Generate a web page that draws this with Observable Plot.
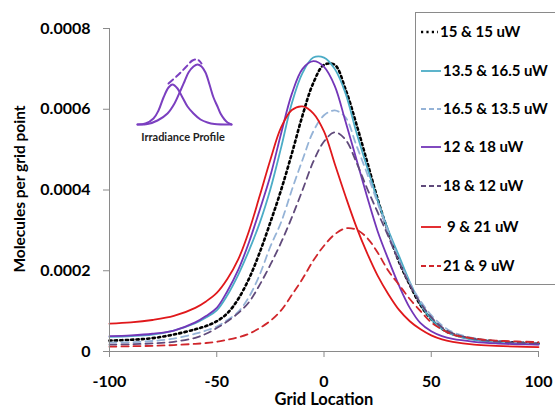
<!DOCTYPE html>
<html>
<head>
<meta charset="utf-8">
<script src="https://cdn.jsdelivr.net/npm/d3@7"></script>
<script src="https://cdn.jsdelivr.net/npm/@observablehq/plot@0.6"></script>
<style>
  html, body { margin: 0; padding: 0; background: #fff; }
  #wrap { position: relative; width: 555px; height: 409px; overflow: hidden; }
  #inset { position: absolute; left: 134px; top: 51px; }
</style>
</head>
<body>
<div id="wrap"><div id="chart"></div><div id="inset"></div></div>
<script>
// Grid locations (x) shared by all series
const gridX = [-100,-90,-80,-70,-60,-55,-50,-45,-40,-35,-30,-25,-20,-15,-10,-5,0,5,10,15,20,25,30,35,40,45,50,55,60,70,80,90,100];

// Values in units of 1e-6 molecules per grid point
const s15_15   = [27,29,33,42,55,63,75,95,130,180,245,320,400,490,585,665,710,710,650,565,472,378,295,222,165,115,80,56,43,31,25,22,20];
const s135_165 = [36,38,42,52,70,84,102,140,190,250,318,402,505,615,690,728,728,700,640,545,458,375,300,236,172,118,80,56,42,29,23,20,18];
const s165_135 = [22,23,26,32,44,52,62,78,98,135,190,260,320,400,475,545,585,597,580,512,442,368,295,226,170,125,90,65,48,33,26,23,21];
const s12_18   = [38,40,44,52,72,88,108,150,202,270,350,435,540,638,700,719,705,658,570,478,385,298,228,163,108,70,50,38,31,24,20,18,17];
const s18_12   = [17,18,20,24,34,44,58,75,95,122,165,215,270,332,400,470,520,543,525,470,405,345,285,222,165,120,85,60,45,31,25,22,20];
const s9_21    = [69,72,78,88,108,124,145,180,228,298,385,475,555,598,607,590,545,465,385,310,245,188,142,103,75,55,40,30,24,17,14,12,11];
const s21_9    = [12,13,14,16,19,21,24,29,35,44,58,76,102,140,180,225,262,290,305,302,282,245,200,165,130,100,72,55,42,32,27,25,23];

const seriesNames = ["15 & 15 uW","13.5 & 16.5 uW","16.5 & 13.5 uW","12 & 18 uW","18 & 12 uW","9 & 21 uW","21 & 9 uW"];
const seriesValues = [s15_15, s135_165, s165_135, s12_18, s18_12, s9_21, s21_9];
const seriesColors = ["#000000","#4bacc6","#95b3d7","#7336b8","#604a7b","#e0181b","#d0262b"];
const seriesDash   = ["2.2,3.2", null, "7,5", null, "7,5", null, "7,5"];
const seriesWidth  = [2.6, 1.8, 1.8, 1.8, 1.8, 1.8, 1.8];

const xTicks = [-100,-50,0,50,100];
const yTicks = [0,0.0002,0.0004,0.0006,0.0008];
const yTickLabels = ["0","0.0002","0.0004","0.0006","0.0008"];

// Inset "Irradiance Profile" shapes (arbitrary units)
const leftProfX  = [137,145,153,158,163,168,172,177,182,187,193,200,207,214,231];
const leftProfY  = [0,1,6,14,27,37,40,36,27,18,11,5,2,0.5,0];
const rightProfX = [137,147,157,167,174,180,184,188,193,197,201,205,209,213,217,220,224,227,231];
const rightProfY = [0,0.5,4,11,21,34,43,52,58,60,58,52,40,27,18,11,5,2,0];
const envProfX   = [168,177,185,192,197,201];
const envProfY   = [41,49,57,64,65,61];

// Build tidy table
const table = [];
seriesNames.forEach((name, i) => {
  gridX.forEach((x, j) => table.push({series: name, x, v: seriesValues[i][j] * 1e-6}));
});

const lineMarks = seriesNames.map((name, i) =>
  Plot.line(table.filter(d => d.series === name), {
    x: "x", y: "v",
    stroke: seriesColors[i],
    strokeWidth: seriesWidth[i],
    strokeDasharray: seriesDash[i] || undefined,
    curve: "catmull-rom"
  })
);

const chart = Plot.plot({
  width: 555, height: 409,
  marginLeft: 109, marginRight: 17, marginTop: 28, marginBottom: 58,
  style: {fontFamily: "Lato", fontWeight: "bold", fontSize: "16px", color: "#000", background: "#fff", overflow: "visible"},
  x: {domain: [-100, 100]},
  y: {domain: [0, 0.0008]},
  marks: [
    ...lineMarks,
    Plot.ruleX([-100], {stroke: "#8a8a8a", strokeWidth: 1}),
    Plot.ruleY([0], {stroke: "#8a8a8a", strokeWidth: 1}),
    Plot.axisY({ticks: yTicks, tickSize: 6, tickPadding: 13, stroke: "#8a8a8a",
      tickFormat: d => yTickLabels[yTicks.indexOf(d)], label: null, fill: "#000"}),
    Plot.axisX({ticks: xTicks, tickSize: 6, tickPadding: 18, stroke: "#8a8a8a",
      tickFormat: d => String(d), label: null, fill: "#000"}),
    Plot.text(["Grid Location"], {frameAnchor: "bottom", dy: 48, lineAnchor: "middle", fontSize: 16.5, fontWeight: "bold", fill: "#000"})
  ]
});
document.getElementById("chart").appendChild(chart);

const svg = d3.select(chart);
// Y axis title
svg.append("text").attr("transform", "translate(20,189) rotate(-90)")
  .attr("text-anchor", "middle").attr("dy", "0.35em")
  .attr("font-family", "Lato").attr("font-weight", "bold").attr("font-size", 15.5)
  .attr("fill", "#000").text("Molecules per grid point");

// Legend
const leg = svg.append("g").attr("text-anchor", "start");
leg.append("rect").attr("x", 415.5).attr("y", 12.5).attr("width", 150).attr("height", 272)
  .attr("fill", "#fff").attr("stroke", "#8a8a8a").attr("stroke-width", 1);
const legY = [32, 71, 109, 147, 186, 227, 266];
seriesNames.forEach((name, i) => {
  const g = leg.append("g");
  g.append("line").attr("x1", 421).attr("x2", i === 0 ? 438 : 441).attr("y1", legY[i]).attr("y2", legY[i])
    .attr("stroke", seriesColors[i]).attr("stroke-width", seriesWidth[i])
    .attr("stroke-dasharray", seriesDash[i] ? (i === 0 ? "2.2,3.2" : "5,3") : null);
  g.append("text").attr("x", i === 5 ? 447 : (i === 0 ? 440 : 443)).attr("y", legY[i]).attr("dy", "0.35em")
    .attr("text-anchor", "start")
    .attr("font-family", "Lato").attr("font-weight", "bold").attr("font-size", 15)
    .attr("fill", "#000").text(name);
});
svg.append("text").attr("x", 183).attr("y", 137).attr("dy", "0.35em").attr("text-anchor", "middle")
  .attr("font-family", "Lato").attr("font-weight", "bold").attr("font-size", 11).attr("fill", "#222")
  .text("Irradiance Profile");

// Inset
const profLeft = leftProfX.map((x, i) => ({x, y: leftProfY[i]}));
const profRight = rightProfX.map((x, i) => ({x, y: rightProfY[i]}));
const profEnv = envProfX.map((x, i) => ({x, y: envProfY[i]}));
const inset = Plot.plot({
  width: 100, height: 76, margin: 3,
  x: {domain: [137, 231], axis: null},
  y: {domain: [0, 70], axis: null},
  style: {background: "transparent", overflow: "visible"},
  marks: [
    Plot.line(profLeft, {x: "x", y: "y", stroke: "#7b3fc0", strokeWidth: 2, curve: "catmull-rom"}),
    Plot.line(profRight, {x: "x", y: "y", stroke: "#7b3fc0", strokeWidth: 2, curve: "catmull-rom"}),
    Plot.line(profEnv, {x: "x", y: "y", stroke: "#7b3fc0", strokeWidth: 2, strokeDasharray: "6,4", curve: "catmull-rom"})
  ]
});
document.getElementById("inset").appendChild(inset);
</script>
</body>
</html>
